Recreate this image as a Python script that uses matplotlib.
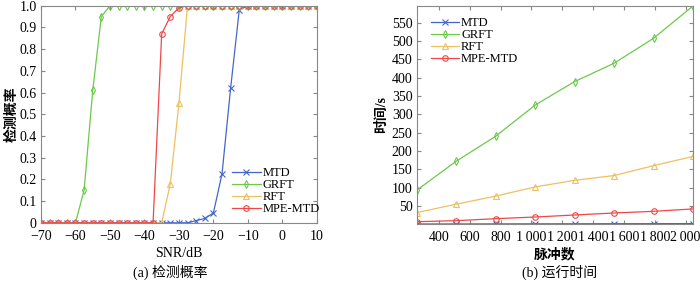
import matplotlib
matplotlib.use('Agg')
import matplotlib.pyplot as plt

# ---- data ----
snr = [-70 + 2.5 * i for i in range(33)]
pd_mtd = [0] * 15 + [0, 0, 0, 0.01, 0.02, 0.045, 0.225, 0.62, 0.98] + [1] * 9
pd_grft = [0] * 5 + [0.15, 0.61, 0.95] + [1] * 25
pd_rft = [0] * 15 + [0.18, 0.55] + [1] * 16
pd_mpe = [0] * 14 + [0.87, 0.95, 0.99] + [1] * 16

pulses = [256, 512, 768, 1024, 1280, 1536, 1792, 2048]
t_mtd = [1.0, 1.2, 1.3, 1.5, 1.6, 1.8, 1.9, 2.1]
t_grft = [93, 172, 240, 325, 389, 439, 507, 595]
t_rft = [32, 55, 77, 102, 120, 133, 160, 185]
t_mpe = [7.3, 10, 15.5, 20, 25.5, 31, 35.5, 42]

labels = ['MTD', 'GRFT', 'RFT', 'MPE-MTD']
colors = ['#4466cc', '#6cc94a', '#eec060', '#ee4848']
markers = ['x', 'd', '^', 'o']

snr_ticks = [-70, -60, -50, -40, -30, -20, -10, 0, 10]
pd_ticks = [0, 0.1, 0.2, 0.3, 0.4, 0.5, 0.6, 0.7, 0.8, 0.9, 1.0]
pd_ticklabels = ['0', '0.1', '0.2', '0.3', '0.4', '0.5', '0.6', '0.7', '0.8', '0.9', '1.0']
pulse_ticks = [400, 600, 800, 1000, 1200, 1400, 1600, 1800, 2000]
pulse_ticklabels = ['400', '600', '800', '1\u2009000', '1\u2009200', '1\u2009400',
                    '1\u2009600', '1\u2009800', '2\u2009000']
time_ticks = [50, 100, 150, 200, 250, 300, 350, 400, 450, 500, 550]

SERIF = ['Liberation Serif', 'Noto Sans CJK SC', 'DejaVu Serif']
plt.rcParams['font.family'] = SERIF
plt.rcParams['font.size'] = 10
plt.rcParams['axes.unicode_minus'] = True


def style_axes(ax):
    for s in ax.spines.values():
        s.set_color('#888888')
        s.set_linewidth(0.8)
    ax.tick_params(direction='in', top=True, right=True, length=3,
                   color='#888888', labelsize=10)
    ax.tick_params(axis='x', pad=5)
    ax.tick_params(axis='y', pad=3)


def draw(ax, x, series):
    for y, lab, c, m in zip(series, labels, colors, markers):
        ax.plot(x, y, color=c, marker=m, markersize=4, markerfacecolor='none',
                markeredgewidth=0.8, linewidth=0.9, label=lab)


def add_legend(ax, anchor):
    ax.legend(loc='upper left', bbox_to_anchor=anchor, frameon=False,
              fontsize=9, handlelength=2.3, handletextpad=0.15,
              labelspacing=0.0, borderpad=0, borderaxespad=0)


fig = plt.figure(figsize=(7, 2.84), dpi=100)

# (a) detection probability
ax1 = fig.add_axes([0.0586, 0.2155, 0.394, 0.7645])
draw(ax1, snr, [pd_mtd, pd_grft, pd_rft, pd_mpe])
ax1.set_xlim(-70, 10)
ax1.set_ylim(0, 1)
ax1.set_xticks(snr_ticks)
ax1.set_yticks(pd_ticks)
ax1.set_yticklabels(pd_ticklabels)
style_axes(ax1)
ax1.set_xlabel('SNR/dB', fontsize=10, labelpad=3)
ax1.set_ylabel('检测概率', fontsize=10, fontweight='bold', labelpad=1)
add_legend(ax1, (0.692, 0.255))

# (b) running time
ax2 = fig.add_axes([0.5953, 0.2113, 0.3947, 0.7676])
draw(ax2, pulses, [t_mtd, t_grft, t_rft, t_mpe])
ax2.set_xlim(min(pulses), max(pulses))
ax2.set_ylim(min(t_mtd), max(t_grft))
ax2.set_xticks(pulse_ticks)
ax2.set_xticklabels(pulse_ticklabels)
ax2.set_yticks(time_ticks)
style_axes(ax2)
ax2.set_xlabel('脉冲数', fontsize=10, fontweight='bold', labelpad=3)
ax2.set_ylabel('时间/s', fontsize=10, fontweight='bold', labelpad=3)
add_legend(ax2, (0.05, 0.948))

fig.text(0.243, 0.042, '(a) 检测概率', ha='center', va='center', fontsize=10)
fig.text(0.799, 0.042, '(b) 运行时间', ha='center', va='center', fontsize=10)

fig.savefig('out.png', dpi=100)
